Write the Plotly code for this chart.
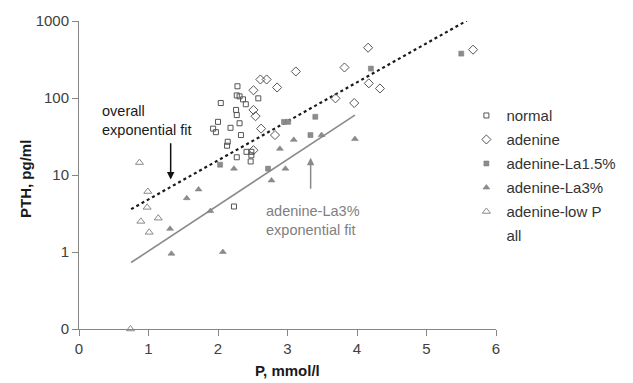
import plotly.graph_objects as go

# ---- data ----
normal_x = [2.28, 2.58, 2.04, 2.26, 2.27, 2.00, 2.31, 2.18, 1.93, 1.97, 2.33, 2.14,
            2.13, 2.41, 2.48, 2.48, 2.47, 2.27, 2.23, 2.27, 2.31, 2.36, 2.40]
normal_y = [142, 99, 86, 70, 60, 49, 47, 41, 40, 36, 33, 27,
            24, 20, 20, 18, 15, 17, 3.9, 108, 105, 96, 83]

adenine_x = [4.16, 3.12, 3.82, 2.61, 2.70, 2.51, 2.85, 4.17, 4.33, 3.69, 3.96,
             2.51, 2.54, 2.62, 2.82, 2.51, 5.67]
adenine_y = [450, 221, 249, 174, 174, 126, 137, 155, 133, 99, 86,
             70, 58, 40, 33, 21, 424]

la15_x = [5.50, 4.20, 3.40, 2.95, 3.01, 3.33, 2.03, 2.72]
la15_y = [377, 241, 57, 49, 49, 33, 13.6, 12.1]

la3_x = [3.09, 3.49, 3.97, 2.89, 2.23, 2.97, 2.77, 1.72, 1.55, 1.31, 1.33, 1.89, 2.07]
la3_y = [28.6, 33, 29.4, 21.9, 12.1, 12.1, 8.5, 6.5, 5.0, 2.0, 0.95, 3.4, 1.0]

lowp_x = [0.87, 0.99, 0.98, 0.89, 1.14, 1.01, 0.74]
lowp_y = [14.5, 6.1, 3.8, 2.5, 2.75, 1.8, 0.1]

overall_fit_x = [0.75, 5.58]
overall_fit_y = [3.6, 1010]
la3_fit_x = [0.75, 3.97]
la3_fit_y = [0.73, 60]

y_tickvals = [0.1, 1, 10, 100, 1000]
y_ticktext = ["0", "1", "10", "100", "1000"]
x_tickvals = [0, 1, 2, 3, 4, 5, 6]

FONT = "Arial, 'Liberation Sans', sans-serif"
AX = "#868686"

fig = go.Figure()

fig.add_trace(go.Scatter(x=overall_fit_x, y=overall_fit_y, mode="lines",
                         line=dict(color="#1a1a1a", width=2.2, dash="dot"),
                         showlegend=False, hoverinfo="skip"))
fig.add_trace(go.Scatter(x=la3_fit_x, y=la3_fit_y, mode="lines",
                         line=dict(color="#8a8a8a", width=1.6),
                         showlegend=False, hoverinfo="skip"))

fig.add_trace(go.Scatter(x=normal_x, y=normal_y, mode="markers", name="normal",
                         legendgroup="g1",
                         marker=dict(symbol="square-open", size=5, color="#555555",
                                     line=dict(width=1, color="#555555")),
                         cliponaxis=False))
fig.add_trace(go.Scatter(x=adenine_x, y=adenine_y, mode="markers", name="adenine",
                         legendgroup="g2",
                         marker=dict(symbol="diamond-open", size=7, color="#555555",
                                     line=dict(width=1, color="#555555")),
                         cliponaxis=False))
fig.add_trace(go.Scatter(x=la15_x, y=la15_y, mode="markers", name="adenine-La1.5%",
                         legendgroup="g3",
                         marker=dict(symbol="square", size=5, color="#8c8c8c",
                                     line=dict(width=0.5, color="#777777")),
                         cliponaxis=False))
fig.add_trace(go.Scatter(x=la3_x, y=la3_y, mode="markers", name="adenine-La3%",
                         legendgroup="g4",
                         marker=dict(symbol="triangle-up", size=6, color="#8c8c8c",
                                     line=dict(width=0.5, color="#777777")),
                         cliponaxis=False))
fig.add_trace(go.Scatter(x=lowp_x, y=lowp_y, mode="markers", name="adenine-low P",
                         legendgroup="g5",
                         marker=dict(symbol="triangle-up-open", size=7, color="#8a8a8a",
                                     line=dict(width=1, color="#8a8a8a")),
                         cliponaxis=False))
fig.add_trace(go.Scatter(x=[None], y=[None], mode="markers", name="all",
                         legendgroup="g6",
                         marker=dict(symbol="square", size=5, color="rgba(0,0,0,0)")))

annotations = [
    dict(x=0.30, y=1.714, xref="x", yref="y", text="overall<br>exponential fit",
         showarrow=False, xanchor="left", yanchor="middle", align="left",
         font=dict(family=FONT, size=14.5, color="#1a1a1a")),
    dict(x=1.319, y=0.942, xref="x", yref="y", ax=1.319, ay=1.431,
         axref="x", ayref="y", text="", showarrow=True, arrowhead=2,
         arrowsize=1, arrowwidth=1.5, arrowcolor="#111111", standoff=0),
    dict(x=2.667, y=0.415, xref="x", yref="y", text="adenine-La3%<br>exponential fit",
         showarrow=False, xanchor="left", yanchor="middle", align="left",
         font=dict(family=FONT, size=14.5, color="#808080")),
    dict(x=3.333, y=1.225, xref="x", yref="y", ax=3.333, ay=0.801,
         axref="x", ayref="y", text="", showarrow=True, arrowhead=2,
         arrowsize=1, arrowwidth=1.5, arrowcolor="#8a8a8a", standoff=0),
    dict(x=0, y=0.5, xref="paper", yref="paper", text="<b>PTH, pg/ml</b>",
         textangle=-90, showarrow=False, xanchor="center", yanchor="middle",
         xshift=-54, yshift=-4, font=dict(family=FONT, size=15, color="#1a1a1a")),
    dict(x=0.5, y=0, xref="paper", yref="paper", text="<b>P, mmol/l</b>",
         showarrow=False, xanchor="center", yanchor="middle",
         yshift=-41, font=dict(family=FONT, size=15, color="#1a1a1a")),
]

fig.update_layout(
    width=633, height=383,
    margin=dict(l=79, r=131, t=18, b=54),
    paper_bgcolor="white", plot_bgcolor="white",
    font=dict(family=FONT, size=15, color="#404040"),
    showlegend=True,
    legend=dict(x=0.929, y=0.746, xanchor="left", yanchor="top",
                bgcolor="rgba(0,0,0,0)", font=dict(family=FONT, size=15, color="#333333"),
                traceorder="grouped", tracegroupgap=1.5),
    annotations=annotations,
    xaxis=dict(range=[0, 6], tickvals=x_tickvals, showline=True, linecolor=AX,
               linewidth=1, ticks="outside", ticklen=6, tickcolor=AX, showgrid=False,
               zeroline=False, tickfont=dict(family=FONT, size=15, color="#404040")),
    yaxis=dict(type="log", range=[-1, 3], tickvals=y_tickvals, ticktext=y_ticktext,
               showline=True, linecolor=AX, linewidth=1, ticks="outside", ticklen=6,
               tickcolor=AX, showgrid=False, zeroline=False,
               tickfont=dict(family=FONT, size=15, color="#404040")),
)

fig.write_html("out.html")
